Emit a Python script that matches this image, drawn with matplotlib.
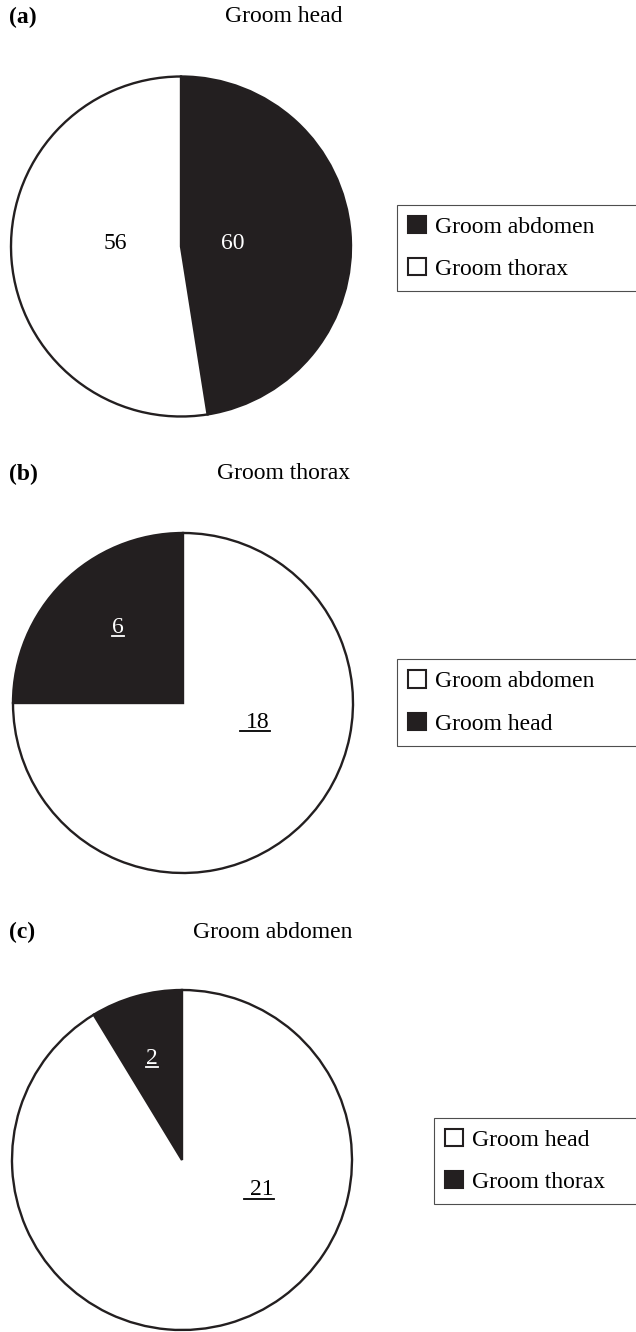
import matplotlib
matplotlib.use("Agg")
import matplotlib.pyplot as plt
from matplotlib.patches import Patch
from matplotlib.lines import Line2D

plt.rcParams['font.family'] = ['Liberation Serif', 'DejaVu Serif']

# ---- data ----
panel_tags = ["(a)", "(b)", "(c)"]
panel_titles = ["Groom head", "Groom thorax", "Groom abdomen"]

# panel (a): slice labels and slice sizes as drawn
a_names = ["Groom abdomen", "Groom thorax"]
a_counts = [60, 56]
a_sizes = [47.5, 52.5]

# panel (b)
b_names = ["Groom head", "Groom abdomen"]
b_counts = [6, 18]

# panel (c)
c_names = ["Groom thorax", "Groom head"]
c_counts = [2, 21]

DARK = "#231f20"
W, H = 636, 1332
fig = plt.figure(figsize=(W / 100, H / 100), dpi=100)

def fx(px):
    return px / W

def fy(py):
    return 1 - py / H

R = 170.0
HALF = 175.0

def pie_axes(cx, cy):
    ax = fig.add_axes([fx(cx - HALF), fy(cy + HALF), 2 * HALF / W, 2 * HALF / H])
    return ax

def draw_pie(ax, sizes, colors, clockwise):
    wedges, _ = ax.pie(sizes, colors=colors, startangle=90, counterclock=not clockwise,
                       radius=1.0,
                       wedgeprops=dict(edgecolor=DARK, linewidth=1.7))
    lim = HALF / R
    ax.set_xlim(-lim, lim)
    ax.set_ylim(-lim, lim)
    ax.set_aspect('equal')
    ax.axis('off')
    return wedges

def legend(names, colors, left, top, bottom):
    handles = [Patch(facecolor=c, edgecolor=DARK, linewidth=1.5) for c in colors]
    leg = fig.legend(handles, names, loc='center left',
                     bbox_to_anchor=(fx(left), fy(bottom), fx(720) - fx(left), (bottom - top) / H),
                     mode='expand', fontsize=17, frameon=True, fancybox=False,
                     handlelength=0.74, handleheight=0.74, handletextpad=0.4,
                     borderpad=0.47, labelspacing=0.87, borderaxespad=0.0)
    fr = leg.get_frame()
    fr.set_edgecolor('#222222')
    fr.set_linewidth(0.8)
    return leg

def header(tag, title, y, title_x):
    fig.text(fx(9), fy(y), tag, fontsize=17, fontweight='bold', va='center', ha='left')
    fig.text(fx(title_x), fy(y), title, fontsize=17, va='center', ha='left')

underlined = []

def ulabel(ax, x, y, s, color, extra_left=0):
    t = ax.text(x, y, s, color=color, fontsize=17, ha='center', va='center')
    underlined.append((t, color, extra_left))
    return t

# ---- panel (a) ----
header(panel_tags[0], panel_titles[0], 17, 225)
axa = pie_axes(181, 246.5)
draw_pie(axa, a_sizes, [DARK, "white"], clockwise=True)
axa.text(0.306, 0.015, str(a_counts[0]), color="white", fontsize=17, ha='center', va='center')
axa.text(-0.388, 0.015, str(a_counts[1]), color="black", fontsize=17, ha='center', va='center')
legend(a_names, [DARK, "white"], 397, 204, 292)

# ---- panel (b) ----
header(panel_tags[1], panel_titles[1], 474, 217)
axb = pie_axes(183, 703)
draw_pie(axb, b_counts, [DARK, "white"], clockwise=False)
ulabel(axb, -0.382, 0.447, str(b_counts[0]), "white")
ulabel(axb, 0.441, -0.112, str(b_counts[1]), "black", extra_left=6)
legend([b_names[1], b_names[0]], ["white", DARK], 397, 658, 747)

# ---- panel (c) ----
header(panel_tags[2], panel_titles[2], 932, 193)
axc = pie_axes(182, 1160)
draw_pie(axc, c_counts, [DARK, "white"], clockwise=False)
ulabel(axc, -0.176, 0.6, str(c_counts[0]), "white")
ulabel(axc, 0.47, -0.176, str(c_counts[1]), "black", extra_left=6)
legend([c_names[1], c_names[0]], ["white", DARK], 434, 1116, 1206)

# underline the labels that are underlined in the original
fig.canvas.draw()
renderer = fig.canvas.get_renderer()
for t, color, extra in underlined:
    bb = t.get_window_extent(renderer)
    yline = bb.y0 + 1.5
    fig.add_artist(Line2D([(bb.x0 - extra) / W, bb.x1 / W], [yline / H, yline / H],
                          color=color, linewidth=1.3, transform=fig.transFigure))

fig.savefig("out.png", dpi=100)
